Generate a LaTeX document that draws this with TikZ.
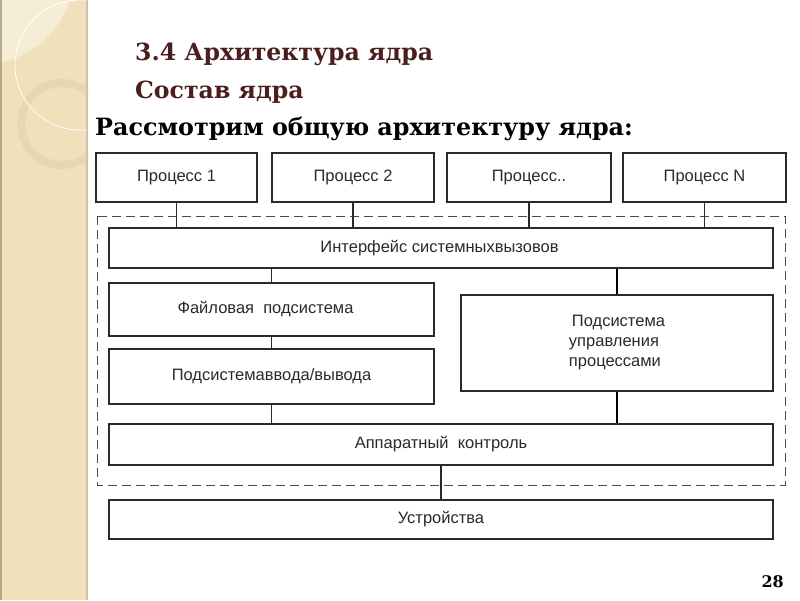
\documentclass[tikz,border=0pt]{standalone}
\usepackage{fontspec}
\setmainfont{DejaVu Serif}
\newfontfamily\diagfont{Liberation Sans}
\definecolor{strip}{HTML}{F0E1BC}
\definecolor{striplight}{HTML}{F6EDD6}
\definecolor{stripring}{HTML}{E7D7B2}
\definecolor{stripedge}{HTML}{B8A88A}
\definecolor{titlebrown}{HTML}{4A1E1C}
\definecolor{boxline}{HTML}{2A2A2A}
\definecolor{boxtext}{HTML}{2A2A2A}
\tikzset{
  blk/.style={draw=boxline, line width=1.1pt, fill=white, inner sep=0pt,
    font=\diagfont\fontsize{16.5}{19}\selectfont, text=boxtext},
  wire/.style={draw=boxline, line width=1.1pt},
  thickwire/.style={draw=black, line width=1.7pt},
  kernel/.style={draw=boxline!85, line width=1pt, dash pattern=on 9pt off 5pt},
  titletext/.style={anchor=base west, inner sep=0pt, font=\bfseries\fontsize{23.6}{26}\selectfont, text=titlebrown},
}
\begin{document}
\begin{tikzpicture}[x=1pt,y=-1pt]
\useasboundingbox (0,0) rectangle (800,600);
\fill[white] (0,0) rectangle (800,600);
% left decorative strip
\begin{scope}
\clip (0,0) rectangle (88,600);
\fill[strip] (0,0) rectangle (88,600);
\fill[striplight] (-20,-30) circle[radius=95];
\draw[stripring, line width=8pt] (62,124) circle[radius=41];
\draw[white, line width=0.8pt] (80,65) circle[radius=65];
\fill[stripedge] (0,0) rectangle (1.5,600);
\fill[stripedge!70] (86,0) rectangle (88,600);
\end{scope}
% titles
\node[titletext] (t1) at (135,60) {3.4 Архитектура ядра};
\node[titletext] (t2) at (135,98) {Состав ядра};
\node[anchor=base west, inner sep=0pt, font=\bfseries\fontsize{23.8}{26}\selectfont] (t3) at (95,135) {Рассмотрим общую архитектуру ядра:};
% kernel dashed frame
\draw[kernel] (97,216) rectangle (785,485);
% process boxes
\node[blk, minimum width=161pt, minimum height=49pt] (p1) at (176.5,177.5) {Процесс 1};
\node[blk, minimum width=162pt, minimum height=49pt] (p2) at (353,177.5) {Процесс 2};
\node[blk, minimum width=164pt, minimum height=49pt] (p3) at (529,177.5) {Процесс..};
\node[blk, minimum width=163pt, minimum height=49pt] (p4) at (704.5,177.5) {Процесс N};
% kernel blocks
\node[blk, minimum width=664pt, minimum height=40pt] (iface) at (441,248) {\hspace*{-3pt}Интерфейс системныхвызовов};
\node[blk, minimum width=325pt, minimum height=53pt] (fs) at (271.5,309.5) {\hspace*{-12pt}Файловая\ \ подсистема};
\node[blk, minimum width=325pt, minimum height=55pt] (io) at (271.5,376.5) {Подсистемаввода/вывода};
\node[blk, minimum width=312pt, minimum height=96pt, align=left] (pm) at (617,343) {\hspace*{3pt}Подсистема\\[1pt]управления\\[1pt]процессами};
\node[blk, minimum width=664pt, minimum height=41pt] (hw) at (441,444.5) {Аппаратный\ \ контроль};
\node[blk, minimum width=664pt, minimum height=39pt] (dev) at (441,519.5) {Устройства};
% connectors
\draw[wire] (p1.south) -- (p1.south |- iface.north);
\draw[wire] (p2.south) -- (p2.south |- iface.north);
\draw[wire] (p3.south) -- (p3.south |- iface.north);
\draw[wire] (p4.south) -- (p4.south |- iface.north);
\draw[wire] (fs.north) -- (fs.north |- iface.south);
\draw[thickwire] (pm.north) -- (pm.north |- iface.south);
\draw[wire] (fs.south) -- (io.north);
\draw[wire] (io.south) -- (io.south |- hw.north);
\draw[thickwire] (pm.south) -- (pm.south |- hw.north);
\draw[wire] (hw.south) -- (dev.north);
% page number
\node[anchor=base east, inner sep=0pt, font=\bfseries\fontsize{16}{18}\selectfont] (pg) at (784,587) {28};
\end{tikzpicture}
\end{document}
